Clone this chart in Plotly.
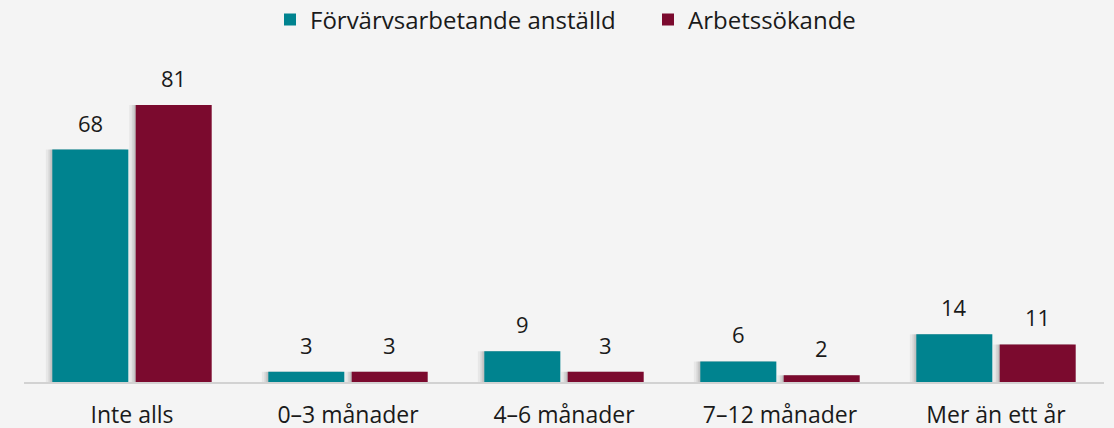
import plotly.graph_objects as go

categories = ["Inte alls", "0–3 månader", "4–6 månader", "7–12 månader", "Mer än ett år"]
series_names = ["Förvärvsarbetande anställd", "Arbetssökande"]
employed = [68, 3, 9, 6, 14]
jobseekers = [81, 3, 3, 2, 11]
colors = ["#00838f", "#7b0a2e"]

FONT = "Open Sans"
bar_w = 0.352      # in category units
shift = 0.193      # center offset of each bar from category center
shadow_dx = 0.03

fig = go.Figure()

# soft shadows (drawn first, behind bars)
for vals, sgn in [(employed, -1), (jobseekers, 1)]:
    for k, alpha in [(1.0, 0.05), (0.6, 0.07), (0.3, 0.09)]:
        fig.add_trace(go.Bar(
            x=categories, y=vals,
            offset=sgn * shift - bar_w / 2 - shadow_dx * k,
            width=bar_w,
            marker=dict(color=f"rgba(0,0,0,{alpha})", line=dict(width=0)),
            showlegend=False, hoverinfo="skip",
        ))

for name, vals, col, sgn in [(series_names[0], employed, colors[0], -1),
                             (series_names[1], jobseekers, colors[1], 1)]:
    fig.add_trace(go.Bar(
        x=categories, y=vals, name=name,
        offset=sgn * shift - bar_w / 2, width=bar_w,
        marker=dict(color=col, line=dict(width=0)),
    ))
    for c, v in zip(categories, vals):
        fig.add_annotation(x=c, y=v, text=str(v), showarrow=False,
                           xshift=sgn * shift * 216, yshift=27,
                           font=dict(family=FONT, size=22, color="#1a1a1a"))

fig.update_layout(
    width=1114, height=428,
    margin=dict(l=24, r=10, t=40, b=46),
    paper_bgcolor="#f4f4f4", plot_bgcolor="#f4f4f4",
    font=dict(family=FONT, size=20, color="#1a1a1a"),
    barmode="overlay",
    showlegend=True,
    legend=dict(orientation="h", x=270 / 1114, xanchor="left", xref="container",
                y=1 - 20 / 428, yanchor="middle", yref="container",
                font=dict(size=24, family=FONT), entrywidth=333,
                itemwidth=30, bgcolor="rgba(0,0,0,0)", traceorder="normal"),
    xaxis=dict(showgrid=False, showline=True, linecolor="#d2d2d2", linewidth=2,
               ticks="outside", ticklen=11, tickcolor="rgba(0,0,0,0)",
               tickfont=dict(size=23, family=FONT, color="#1a1a1a"),
               zeroline=False, automargin=False),
    yaxis=dict(range=[0, 99.3], visible=False, showgrid=False, zeroline=False),
)

fig.write_html("out.html", config={"displayModeBar": False},
               post_script="document.body.style.margin='0';document.body.style.overflow='hidden';document.body.style.background='#f4f4f4';")
